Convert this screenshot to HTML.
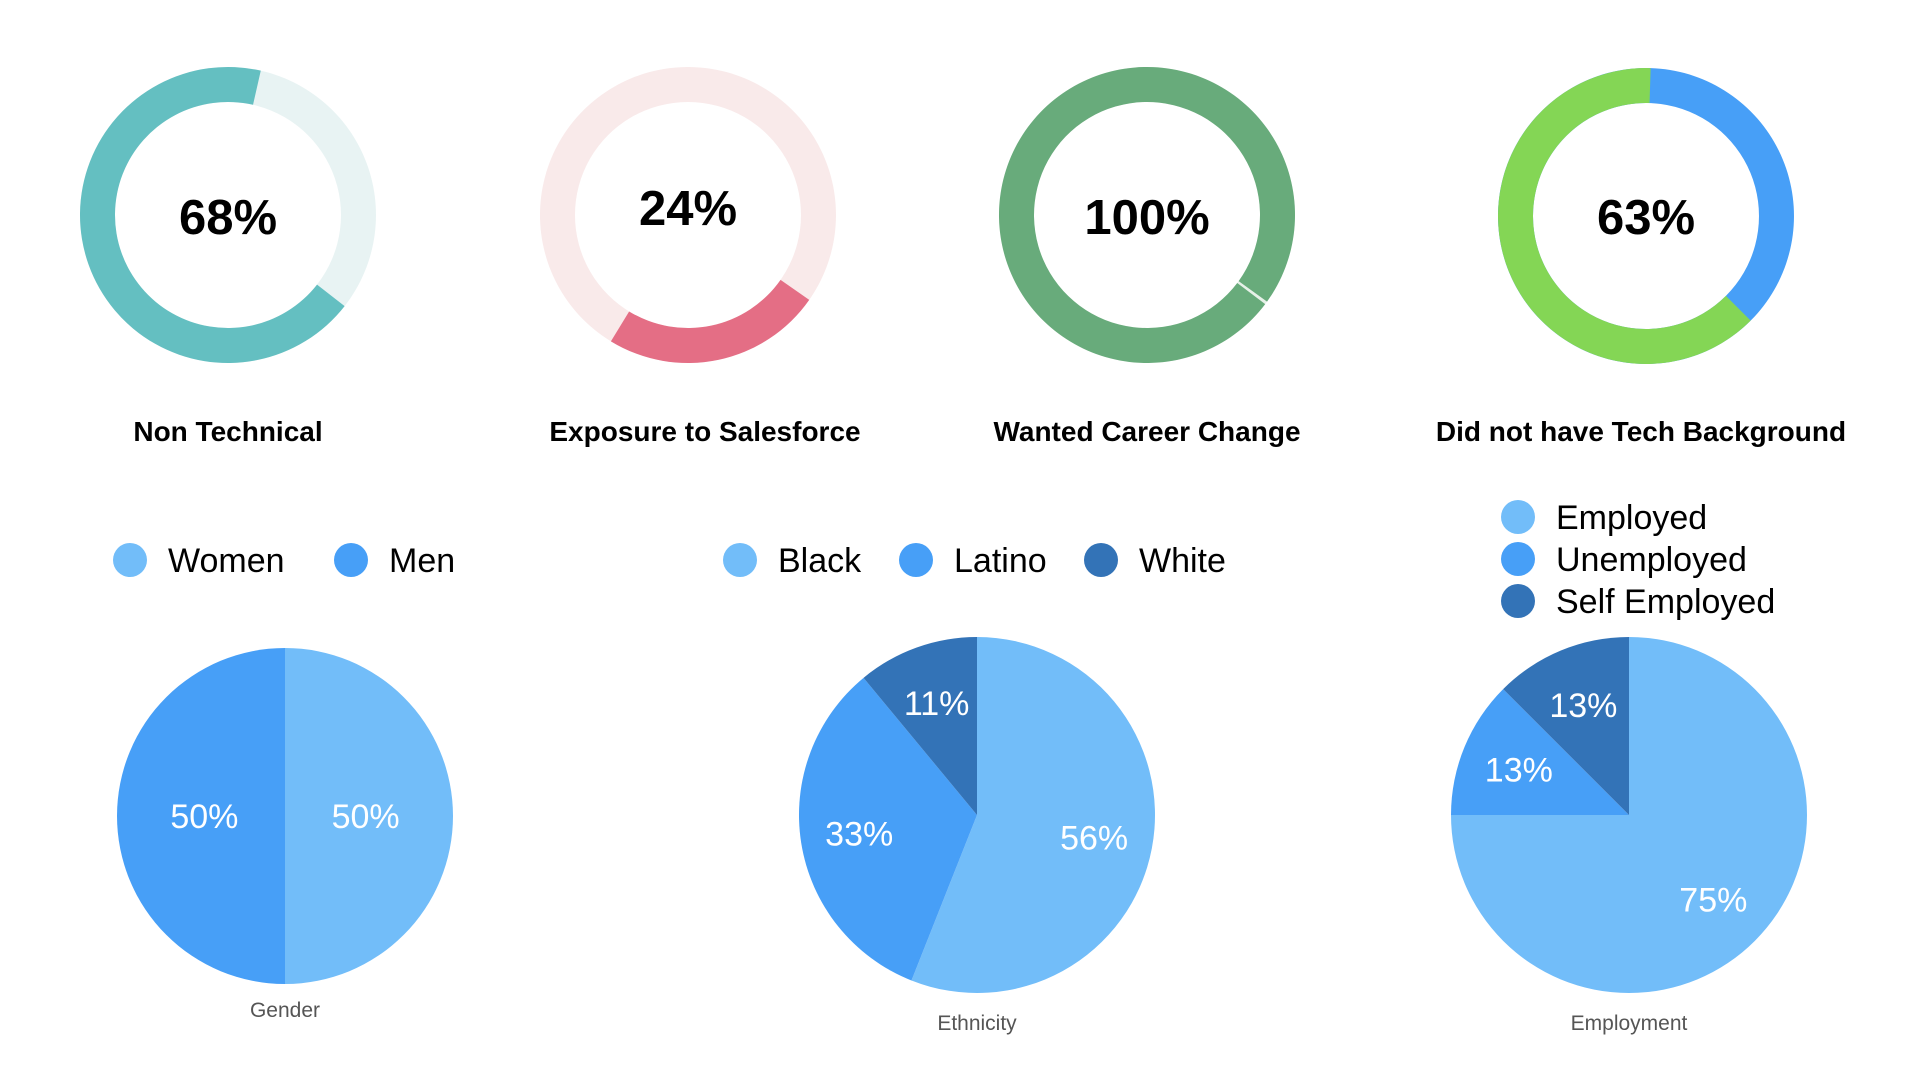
<!DOCTYPE html>
<html><head><meta charset="utf-8"><style>
html,body{margin:0;padding:0;background:#fff;}
svg{display:block;font-family:"Liberation Sans",Arial,sans-serif;}
</style></head><body>
<svg id="chart" width="1920" height="1080" viewBox="0 0 1920 1080" xmlns="http://www.w3.org/2000/svg"></svg>
<script>
// Donut gauge data
const gaugeTitles = ["Non Technical", "Exposure to Salesforce", "Wanted Career Change", "Did not have Tech Background"];
const gaugeValues = [68, 24, 100, 63];
const gaugeLabels = ["68%", "24%", "100%", "63%"];
// Pie data
const genderCats = ["Women", "Men"];
const genderVals = [50, 50];
const ethnicityCats = ["Black", "Latino", "White"];
const ethnicityVals = [56, 33, 11];
const employmentCats = ["Employed", "Unemployed", "Self Employed"];
const employmentVals = [75, 12.5, 12.5];

const svg = document.getElementById('chart');
const NS = 'http://www.w3.org/2000/svg';
function mk(tag, attrs, parent){
  const e = document.createElementNS(NS, tag);
  for (const k in attrs) e.setAttribute(k, attrs[k]);
  (parent||svg).appendChild(e);
  return e;
}
function pt(cx, cy, r, deg){ const a = deg*Math.PI/180; return [cx + r*Math.sin(a), cy - r*Math.cos(a)]; }
function arcPath(cx, cy, R, r, a0, a1){
  if (a1 - a0 >= 359.99) a1 = a0 + 359.99;
  const large = (a1 - a0) > 180 ? 1 : 0;
  const p0 = pt(cx,cy,R,a0), p1 = pt(cx,cy,R,a1);
  if (r <= 0) return `M${cx},${cy} L${p0[0]},${p0[1]} A${R},${R} 0 ${large} 1 ${p1[0]},${p1[1]} Z`;
  const q1 = pt(cx,cy,r,a1), q0 = pt(cx,cy,r,a0);
  return `M${p0[0]},${p0[1]} A${R},${R} 0 ${large} 1 ${p1[0]},${p1[1]} L${q1[0]},${q1[1]} A${r},${r} 0 ${large} 0 ${q0[0]},${q0[1]} Z`;
}

// Gauges (layout)
const gaugeCx = [228, 688, 1147, 1646];
const gaugeCy = [215, 215, 215, 216];
const gaugeStart = [128, 125, 127, 135];
const gaugeFg = ["#64bfc1", "#e46e85", "#68ab7b", "#84d655"];
const gaugeBg = ["#e8f3f3", "#f9eaea", "#e6f1e8", "#479ff7"];
const gaugeTitleX = [228, 705, 1147, 1641];
const gaugeLabelY = [234, 225, 234, 234];

gaugeValues.forEach((v, i) => {
  const g = mk('g', {});
  
  
  const R = 148, r = 113;
  const bg = mk('path', {d: arcPath(gaugeCx[i], gaugeCy[i], R, r, 0, 360), fill: gaugeBg[i], 'fill-rule':'evenodd'}, g);
  
  
  const s = gaugeStart[i];
  const fg = mk('path', {d: arcPath(gaugeCx[i], gaugeCy[i], R, r, s, s + v*3.6 - (v>=100?1.2:0)), fill: gaugeFg[i]}, g);
  
  
  const t = mk('text', {x: gaugeCx[i], y: gaugeLabelY[i], 'text-anchor':'middle', 'font-size':49, 'font-weight':'bold', fill:'#000'}, g);
  t.textContent = gaugeLabels[i];
  
  
  const tt = mk('text', {x: gaugeTitleX[i], y: 441, 'text-anchor':'middle', 'font-size':28, 'font-weight':'bold', fill:'#000'}, g);
  tt.textContent = gaugeTitles[i];
  
  
});

const pieColors = ["#72bdf9", "#479ff7", "#3373b7"];
function pie(name, cats, vals, cx, cy, R, labFrac, title, titleY, legend){
  const g = mk('g', {});
  
  
  const total = vals.reduce((a,b)=>a+b,0);
  let a = 0;
  vals.forEach((v, i) => {
    const a1 = a + v/total*360;
    const p = mk('path', {d: arcPath(cx, cy, R, 0, a, a1), fill: pieColors[i]}, g);
    
    
    const m = pt(cx, cy, R*labFrac, (a+a1)/2);
    const t = mk('text', {x: m[0], y: m[1]+12, 'text-anchor':'middle', 'font-size':34, fill:'#fff'}, g);
    t.textContent = Math.round(v/total*100) + '%';
    
    
    a = a1;
  });
  const tt = mk('text', {x: cx, y: titleY, 'text-anchor':'middle', 'font-size':21, fill:'#555'}, g);
  tt.textContent = title;
  
  
  cats.forEach((c, i) => {
    const L = legend[i];
    const lg = mk('g', {}, g);
    
    
    mk('circle', {cx: L[0], cy: L[1], r: 17, fill: pieColors[i]}, lg);
    const lt = mk('text', {x: L[0]+38, y: L[1]+12, 'font-size':34, fill:'#000'}, lg);
    lt.textContent = c;
  });
}
pie('gender', genderCats, genderVals, 285, 816, 168, 0.48, 'Gender', 1017, [[130,560],[351,560]]);
pie('ethnicity', ethnicityCats, ethnicityVals, 977, 815, 178, 0.67, 'Ethnicity', 1030, [[740,560],[916,560],[1101,560]]);
pie('employment', employmentCats, employmentVals, 1629, 815, 178, 0.67, 'Employment', 1030, [[1518,517],[1518,559],[1518,601]]);
</script>
</body></html>
